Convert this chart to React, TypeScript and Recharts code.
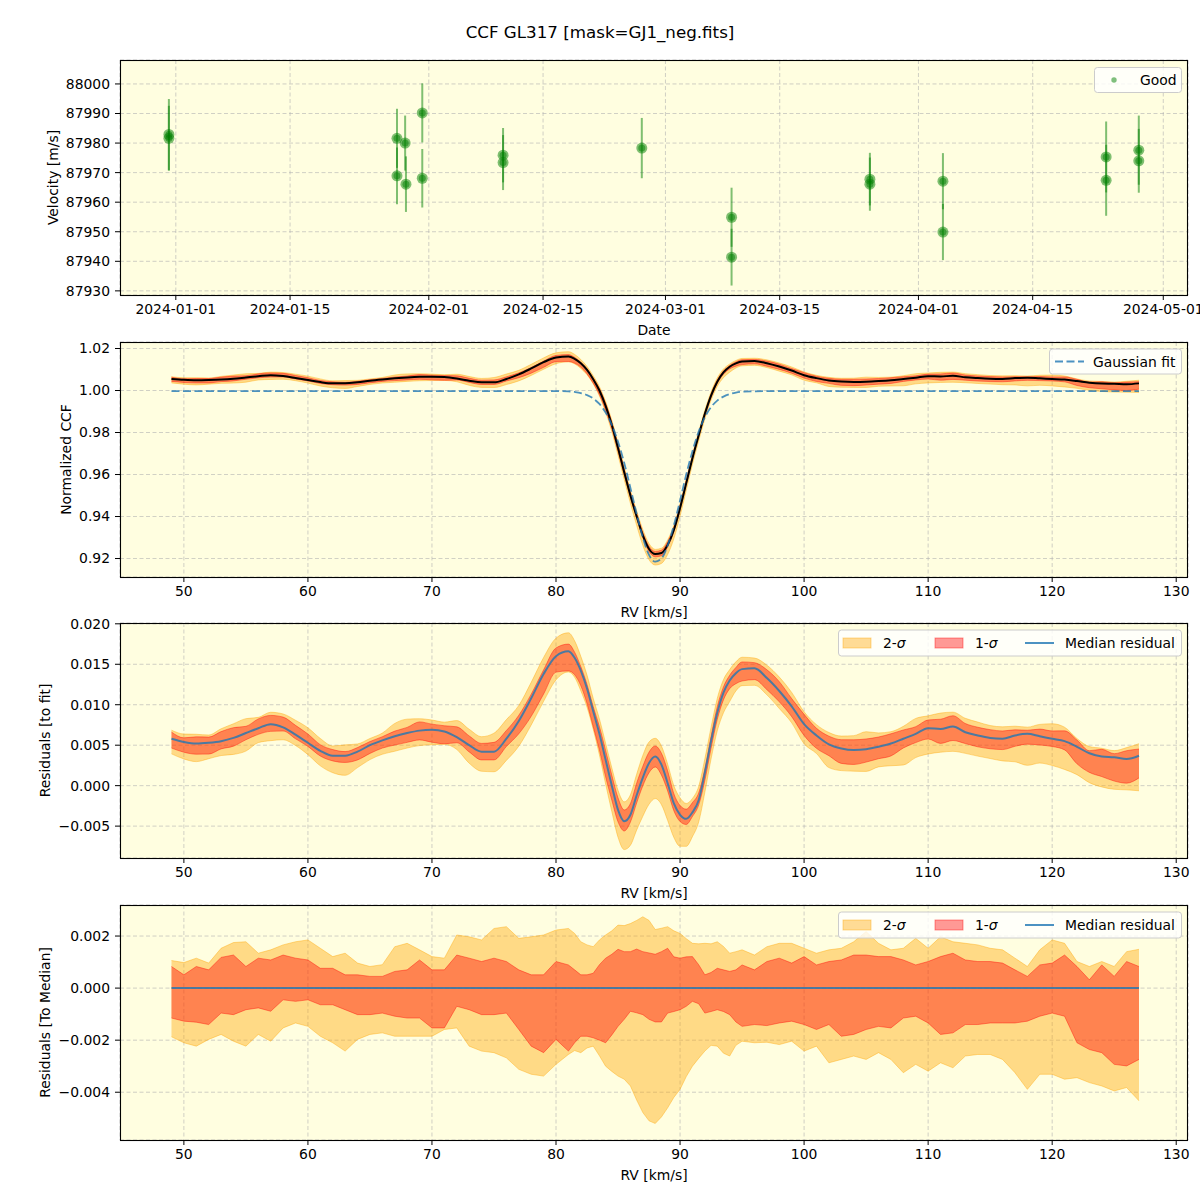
import React from 'react';
import {
  ComposedChart,
  Area,
  Line,
  Scatter,
  ErrorBar,
  XAxis,
  YAxis,
  CartesianGrid,
} from 'recharts';

// ---- radial velocity time series (top panel) ----
const obsTime = [
  '2023-12-31T03:36:00', '2023-12-31T03:36:00',
  '2024-01-28T02:24:00', '2024-01-28T02:24:00',
  '2024-01-29T02:24:00', '2024-01-29T04:48:00',
  '2024-01-31T04:48:00', '2024-01-31T04:48:00',
  '2024-02-10T02:24:00', '2024-02-10T02:24:00',
  '2024-02-27T02:24:00',
  '2024-03-09T02:24:00', '2024-03-09T02:24:00',
  '2024-03-26T01:12:00', '2024-03-26T01:12:00',
  '2024-04-04T00:00:00', '2024-04-04T00:00:00',
  '2024-04-24T00:00:00', '2024-04-24T00:00:00',
  '2024-04-28T00:00:00', '2024-04-28T00:00:00',
];
const obsVel = [
  87982.9, 87981.6, 87981.6, 87968.9, 87980.0, 87966.1, 87990.2, 87968.1,
  87975.9, 87973.4, 87978.3, 87954.9, 87941.4, 87967.8, 87966.1, 87967.1,
  87949.9, 87975.3, 87967.4, 87977.6, 87974.0,
];
const obsErr = [
  12.0, 11.0, 10.0, 9.6, 9.3, 9.4, 10.0, 9.9, 9.2, 9.3, 10.2, 10.0, 9.6, 8.9,
  9.0, 9.5, 9.5, 12.0, 12.0, 11.7, 10.8,
];
const dateTicks = [
  '2024-01-01', '2024-01-15', '2024-02-01', '2024-02-15', '2024-03-01',
  '2024-03-15', '2024-04-01', '2024-04-15', '2024-05-01',
];
const velTicks = [87930, 87940, 87950, 87960, 87970, 87980, 87990, 88000];

// ---- CCF profile (RV grid in km/s) ----
const rv = [
  49, 50, 51, 52, 53, 54, 55, 56, 57, 58, 59, 60, 61, 62, 63, 64, 65, 66, 67,
  68, 69, 70, 71, 72, 73, 74, 75, 76, 77, 78, 79, 80, 81,
  81.5, 82, 82.5, 83, 83.5, 84, 84.5, 85, 85.5, 86, 86.5, 87, 87.5, 88, 88.5,
  89, 89.5, 90, 90.5, 91, 91.5, 92, 92.5, 93, 93.5, 94, 94.5,
  95, 96, 97, 98, 99, 100, 101, 102, 103, 104, 105, 106, 107, 108, 109, 110,
  111, 112, 113, 114, 115, 116, 117, 118, 119, 120, 121, 122, 123, 124, 125,
  126, 127,
];
const gaussFit = [
  0.9997, 0.9997, 0.9997, 0.9997, 0.9997, 0.9997, 0.9997, 0.9997, 0.9997,
  0.9997, 0.9997, 0.9997, 0.9997, 0.9997, 0.9997, 0.9997, 0.9997, 0.9997,
  0.9997, 0.9997, 0.9997, 0.9997, 0.9997, 0.9997, 0.9997, 0.9997, 0.9997,
  0.9997, 0.9997, 0.9997, 0.9997, 0.9997, 0.9996,
  0.9993, 0.9988, 0.9978, 0.9962, 0.9936, 0.9895, 0.9836, 0.9756, 0.9655,
  0.9536, 0.9413, 0.93, 0.9217, 0.9185, 0.92, 0.9262, 0.9358, 0.9476, 0.96,
  0.9711, 0.9804, 0.9873, 0.9921, 0.9952, 0.9971, 0.9983, 0.999,
  0.9994, 0.9996, 0.9997, 0.9997, 0.9997, 0.9997, 0.9997, 0.9997, 0.9997,
  0.9997, 0.9997, 0.9997, 0.9997, 0.9997, 0.9997, 0.9997, 0.9997, 0.9997,
  0.9997, 0.9997, 0.9997, 0.9997, 0.9997, 0.9997, 0.9997, 0.9997, 0.9997,
  0.9997, 0.9997, 0.9997, 0.9997, 0.9997, 0.9997,
];
// median residual to the fit
const medianResid = [
  0.0058, 0.0054, 0.0052, 0.0053, 0.0055, 0.0059, 0.0065, 0.0071, 0.0076,
  0.0072, 0.0063, 0.0053, 0.0043, 0.0037, 0.0037, 0.0042, 0.005, 0.0056,
  0.0061, 0.0065, 0.0068, 0.0069, 0.0067, 0.006, 0.005, 0.0042, 0.0042,
  0.0058, 0.008, 0.0108, 0.0138, 0.016, 0.0166,
  0.0158, 0.0142, 0.012, 0.0092, 0.0064, 0.0032, 0.0, -0.003, -0.0044,
  -0.0036, -0.0012, 0.001, 0.0028, 0.0036, 0.0026, 0.0003, -0.0022, -0.0036,
  -0.0041, -0.0033, -0.0018, 0.0016, 0.0055, 0.009, 0.0115, 0.013, 0.0139,
  0.0144, 0.0145, 0.0133, 0.0117, 0.0098, 0.0076, 0.0062, 0.0051, 0.0046,
  0.0044, 0.0045, 0.0048, 0.0052, 0.0058, 0.0064, 0.0071, 0.007, 0.0073,
  0.0066, 0.0062, 0.0059, 0.0058, 0.0062, 0.0064, 0.0061, 0.0058, 0.0055,
  0.0048, 0.004, 0.0036, 0.0035, 0.0033, 0.0037,
];
// spread around the median (bottom panel)
const hi2 = [
  0.00106, 0.00098, 0.00115, 0.00096, 0.00153, 0.00175, 0.00178, 0.00134,
  0.00147, 0.00166, 0.00178, 0.00185, 0.00153, 0.00121, 0.00134, 0.00096,
  0.00083, 0.0009, 0.00159, 0.00172, 0.00147, 0.00121, 0.00115, 0.00204,
  0.00197, 0.00185, 0.00229, 0.00236, 0.00191, 0.00197, 0.00204, 0.00223,
  0.00229,
  0.0021, 0.00178, 0.00166, 0.00159, 0.00185, 0.00204, 0.0022, 0.00242,
  0.0024, 0.00248, 0.0026, 0.00274, 0.0026, 0.00225, 0.0023, 0.00236, 0.0022,
  0.0021, 0.0019, 0.00172, 0.0017, 0.00172, 0.0017, 0.00178, 0.0016, 0.00134,
  0.0014,
  0.00147, 0.00127, 0.00159, 0.00172, 0.00172, 0.00153, 0.00134, 0.00147,
  0.00153, 0.00178, 0.00217, 0.00172, 0.00147, 0.00153, 0.00191, 0.00153,
  0.00197, 0.00178, 0.00172, 0.00166, 0.00153, 0.00147, 0.00115, 0.00083,
  0.00147, 0.00185, 0.00172, 0.00102, 0.00083, 0.00102, 0.00083, 0.0014,
  0.00149,
];
const hi1 = [
  0.00083, 0.00051, 0.00083, 0.0007, 0.00118, 0.00127, 0.00083, 0.00115,
  0.00108, 0.00127, 0.00115, 0.00108, 0.00076, 0.00076, 0.00051, 0.00051,
  0.00045, 0.00045, 0.00064, 0.0007, 0.00108, 0.0007, 0.0007, 0.00127,
  0.00115, 0.00102, 0.00115, 0.00102, 0.0007, 0.00051, 0.00051, 0.00102,
  0.00089,
  0.0007, 0.00051, 0.00051, 0.00057, 0.0009, 0.00115, 0.0013, 0.00149,
  0.0014, 0.0014, 0.0015, 0.0014, 0.00135, 0.0013, 0.0014, 0.00153, 0.0012,
  0.00115, 0.0012, 0.00121, 0.0009, 0.00051, 0.0006, 0.00076, 0.0007,
  0.00064, 0.0007,
  0.00089, 0.0007, 0.00102, 0.00115, 0.00096, 0.00121, 0.00089, 0.00102,
  0.00108, 0.00127, 0.00127, 0.00121, 0.00121, 0.00108, 0.00089, 0.00102,
  0.00121, 0.00134, 0.00108, 0.00102, 0.00102, 0.00096, 0.0007, 0.00045,
  0.00089, 0.00096, 0.00127, 0.00083, 0.00032, 0.00089, 0.00045, 0.00102,
  0.00083,
];
const lo1 = [
  -0.00115, -0.00127, -0.00131, -0.0014, -0.00096, -0.00102, -0.00083,
  -0.00076, -0.00089, -0.00045, -0.00051, -0.00045, -0.00064, -0.00064,
  -0.00083, -0.00102, -0.00102, -0.00096, -0.00108, -0.00115, -0.00115,
  -0.00153, -0.00153, -0.0007, -0.00083, -0.00102, -0.00102, -0.00096,
  -0.00159, -0.00223, -0.00248, -0.00197, -0.00242,
  -0.0021, -0.00185, -0.00185, -0.00191, -0.002, -0.0021, -0.0018, -0.00147,
  -0.0012, -0.00089, -0.00095, -0.00102, -0.0012, -0.0013, -0.0013, -0.00096,
  -0.0009, -0.00083, -0.0007, -0.00051, -0.0006, -0.00096, -0.0009,
  -0.00083, -0.0009, -0.00102, -0.0013,
  -0.00147, -0.0014, -0.00144, -0.00134, -0.00127, -0.0014, -0.00159,
  -0.0014, -0.00185, -0.00178, -0.00159, -0.00147, -0.00153, -0.00115,
  -0.00108, -0.00134, -0.00178, -0.00172, -0.0014, -0.0014, -0.00134,
  -0.00134, -0.00134, -0.00127, -0.00108, -0.00096, -0.00108, -0.0021,
  -0.00236, -0.00248, -0.00293, -0.00299, -0.00274,
];
const lo2 = [
  -0.00187, -0.0021, -0.00223, -0.00197, -0.00178, -0.00204, -0.00223,
  -0.00178, -0.00204, -0.00153, -0.00134, -0.00147, -0.00185, -0.0021,
  -0.00242, -0.00197, -0.00178, -0.00172, -0.00185, -0.00185, -0.00185,
  -0.00185, -0.00159, -0.00153, -0.00223, -0.00242, -0.00248, -0.00268,
  -0.00312, -0.00331, -0.00338, -0.00293, -0.00255,
  -0.0024, -0.00248, -0.0023, -0.00223, -0.0026, -0.003, -0.0032, -0.00338,
  -0.0035, -0.00376, -0.0043, -0.00478, -0.0051, -0.0052, -0.00495, -0.0046,
  -0.0042, -0.00389, -0.0034, -0.003, -0.0027, -0.00242, -0.0022, -0.00223,
  -0.0025, -0.00261, -0.0022,
  -0.00204, -0.0021, -0.00208, -0.00217, -0.00204, -0.00242, -0.00223,
  -0.00287, -0.00274, -0.00261, -0.00274, -0.00248, -0.00274, -0.00325,
  -0.00293, -0.00319, -0.00287, -0.00306, -0.00261, -0.00255, -0.00255,
  -0.00274, -0.00325, -0.00389, -0.00331, -0.00331, -0.0035, -0.00344,
  -0.00363, -0.00376, -0.00395, -0.00382, -0.00433,
];

const rvTicks = [50, 60, 70, 80, 90, 100, 110, 120, 130];
const ccfTicks = [0.92, 0.94, 0.96, 0.98, 1.0, 1.02];
const fitResidTicks = [-0.005, 0, 0.005, 0.01, 0.015, 0.02];
const medResidTicks = [-0.004, -0.002, 0, 0.002];

// ---- layout ----
const W = 1200;
const PLOT_L = 120;
const PLOT_R = 1188;
const PLOT_H = 235;
const PANEL_TOP = [60, 342, 623, 905];
const PAD_TOP = 20;
const AXIS_H = 40;
const BG = '#fffee0';
const FONT = "'DejaVu Sans', sans-serif";
const TICK = { fontSize: 13.9, fill: '#000', fontFamily: FONT };
const C0 = '#1f77b4';

const DAY0 = Date.parse('2024-01-01T00:00:00Z');
const toDay = (s: string) => (Date.parse(s.length > 10 ? s + 'Z' : s + 'T00:00:00Z') - DAY0) / 864e5;
const dayLabel = (d: number) => new Date(DAY0 + Math.round(d) * 864e5).toISOString().slice(0, 10);
const minus = (s: string) => s.replace('-', '\u2212');

const obs = obsTime.map((t, i) => ({ day: toDay(t), v: obsVel[i], err: obsErr[i] }));

const profile = rv.map((x, i) => {
  const fit = gaussFit[i];
  const m = medianResid[i];
  const c = fit + m;
  return {
    rv: x,
    fit,
    ccf: c,
    ccf2: [c + lo2[i], c + hi2[i]],
    ccf1: [c + lo1[i], c + hi1[i]],
    res: m,
    res2: [m + lo2[i], m + hi2[i]],
    res1: [m + lo1[i], m + hi1[i]],
    zero: 0,
    med2: [lo2[i], hi2[i]],
    med1: [lo1[i], hi1[i]],
  };
});

function Panel({ top, data, children }: { top: number; data: any[]; children: React.ReactNode }) {
  return (
    <div style={{ position: 'absolute', left: 0, top: top - PAD_TOP }}>
      <ComposedChart
        width={W}
        height={PLOT_H + PAD_TOP + AXIS_H}
        data={data}
        margin={{ top: PAD_TOP, right: W - PLOT_R, bottom: 0, left: 0 }}
      >
        {children}
      </ComposedChart>
    </div>
  );
}

const gridBack = <CartesianGrid fill={BG} fillOpacity={1} horizontal={false} vertical={false} />;
const gridFront = (
  <CartesianGrid fill="none" stroke="#b0b0b0" strokeOpacity={0.6} strokeDasharray="4 2.5" />
);

function rvAxis() {
  return (
    <XAxis
      type="number"
      dataKey="rv"
      domain={[44.85, 130.95]}
      allowDataOverflow
      ticks={rvTicks}
      interval={0}
      height={AXIS_H}
      tick={TICK}
      tickSize={5}
      tickMargin={4}
      axisLine={false}
      tickLine={{ stroke: '#000' }}
    />
  );
}

function yAxis(domain: number[], ticks: number[], fmt: (v: number) => string) {
  return (
    <YAxis
      type="number"
      domain={domain}
      allowDataOverflow
      ticks={ticks}
      interval={0}
      width={PLOT_L}
      tick={TICK}
      tickSize={5}
      tickMargin={5}
      tickFormatter={fmt}
      axisLine={false}
      tickLine={{ stroke: '#000' }}
    />
  );
}

const markerShape = (p: any) => (
  <g>
    <circle cx={p.cx} cy={p.cy} r={5.5} fill="green" fillOpacity={0.5} />
    <circle cx={p.cx} cy={p.cy} r={3.5} fill="green" fillOpacity={0.5} />
  </g>
);

function SigmaLegend({ y }: { y: number }) {
  const mid = y + 13;
  return (
    <g>
      <rect x={838.5} y={y} width={343} height={26} rx={3} fill="#fff" fillOpacity={0.8} stroke="#cccccc" />
      <rect x={843} y={mid - 5} width={28} height={10} fill="orange" fillOpacity={0.4} stroke="orange" strokeOpacity={0.4} />
      <text x={883} y={mid} dominantBaseline="central" fontSize={13.9}>
        2-<tspan fontStyle="italic">σ</tspan>
      </text>
      <rect x={935} y={mid - 5} width={28} height={10} fill="red" fillOpacity={0.4} stroke="red" strokeOpacity={0.4} />
      <text x={975} y={mid} dominantBaseline="central" fontSize={13.9}>
        1-<tspan fontStyle="italic">σ</tspan>
      </text>
      <line x1={1025} x2={1054} y1={mid} y2={mid} stroke={C0} strokeOpacity={0.8} strokeWidth={2} />
      <text x={1065} y={mid} dominantBaseline="central" fontSize={13.9}>Median residual</text>
    </g>
  );
}

function Overlay() {
  const yTitles = [
    { x: 53, text: 'Velocity [m/s]' },
    { x: 66, text: 'Normalized CCF' },
    { x: 45, text: 'Residuals [to fit]' },
    { x: 45, text: 'Residuals [To Median]' },
  ];
  const xTitles = ['Date', 'RV [km/s]', 'RV [km/s]', 'RV [km/s]'];
  const midX = (PLOT_L + PLOT_R) / 2;
  return (
    <svg
      width={W}
      height={1200}
      style={{ position: 'absolute', left: 0, top: 0, pointerEvents: 'none' }}
      fontFamily={FONT}
    >
      <text x={600} y={32} textAnchor="middle" dominantBaseline="central" fontSize={16.7}>
        CCF GL317 [mask=GJ1_neg.fits]
      </text>
      {PANEL_TOP.map((t, i) => {
        const cy = t + PLOT_H / 2;
        return (
          <g key={t}>
            <rect x={PLOT_L + 0.5} y={t + 0.5} width={PLOT_R - PLOT_L - 1} height={PLOT_H} fill="none" stroke="#000" strokeWidth={1.1} />
            <text x={midX} y={t + PLOT_H + 35} textAnchor="middle" dominantBaseline="central" fontSize={13.9}>
              {xTitles[i]}
            </text>
            <text
              x={yTitles[i].x}
              y={cy}
              textAnchor="middle"
              dominantBaseline="central"
              fontSize={13.9}
              transform={`rotate(-90 ${yTitles[i].x} ${cy})`}
            >
              {yTitles[i].text}
            </text>
          </g>
        );
      })}
      {/* legend: top panel */}
      <rect x={1094.5} y={67.5} width={87} height={25} rx={3} fill="#fff" fillOpacity={0.8} stroke="#cccccc" />
      <circle cx={1114} cy={80} r={2.7} fill="green" fillOpacity={0.5} />
      <text x={1140} y={80} dominantBaseline="central" fontSize={13.9}>Good</text>
      {/* legend: CCF panel */}
      <rect x={1049.5} y={349} width={132} height={25} rx={3} fill="#fff" fillOpacity={0.8} stroke="#cccccc" />
      <line x1={1055} x2={1084} y1={361.5} y2={361.5} stroke={C0} strokeOpacity={0.8} strokeWidth={1.8} strokeDasharray="8 3.5" />
      <text x={1093} y={361.5} dominantBaseline="central" fontSize={13.9}>Gaussian fit</text>
      <SigmaLegend y={630} />
      <SigmaLegend y={912} />
    </svg>
  );
}

export default function App() {
  return (
    <div style={{ position: 'absolute', left: 0, top: 0, width: W, height: 1200, background: '#fff' }}>
      {/* velocities */}
      <Panel top={PANEL_TOP[0]} data={obs}>
        {gridBack}
        <XAxis
          type="number"
          dataKey="day"
          domain={[-6.84, 124.03]}
          allowDataOverflow
          ticks={dateTicks.map(toDay)}
          interval={0}
          height={AXIS_H}
          tick={TICK}
          tickSize={5}
          tickMargin={4}
          tickFormatter={dayLabel}
          axisLine={false}
          tickLine={{ stroke: '#000' }}
        />
        {yAxis([87928.6, 88008.1], velTicks, (v) => String(v))}
        {gridFront}
        <Scatter data={obs} dataKey="v" shape={markerShape} isAnimationActive={false}>
          <ErrorBar
            dataKey="err"
            direction="y"
            width={0}
            stroke="green"
            strokeOpacity={0.5}
            strokeWidth={2}
            isAnimationActive={false}
          />
        </Scatter>
      </Panel>

      {/* normalized CCF */}
      <Panel top={PANEL_TOP[1]} data={profile}>
        {gridBack}
        {rvAxis()}
        {yAxis([0.9112, 1.0231], ccfTicks, (v) => v.toFixed(2))}
        {gridFront}
        <Area type="monotone" dataKey="ccf2" stroke="orange" strokeOpacity={0.4} fill="orange" fillOpacity={0.4} dot={false} activeDot={false} isAnimationActive={false} />
        <Area type="monotone" dataKey="ccf1" stroke="red" strokeOpacity={0.4} fill="red" fillOpacity={0.4} dot={false} activeDot={false} isAnimationActive={false} />
        <Line type="monotone" dataKey="ccf" stroke="#000" strokeWidth={2} dot={false} activeDot={false} isAnimationActive={false} />
        <Line type="monotone" dataKey="fit" stroke={C0} strokeOpacity={0.8} strokeWidth={1.8} strokeDasharray="8 3.5" dot={false} activeDot={false} isAnimationActive={false} />
      </Panel>

      {/* residuals to fit */}
      <Panel top={PANEL_TOP[2]} data={profile}>
        {gridBack}
        {rvAxis()}
        {yAxis([-0.00894, 0.0201], fitResidTicks, (v) => minus(v.toFixed(3)))}
        {gridFront}
        <Area type="monotone" dataKey="res2" stroke="orange" strokeOpacity={0.4} fill="orange" fillOpacity={0.4} dot={false} activeDot={false} isAnimationActive={false} />
        <Area type="monotone" dataKey="res1" stroke="red" strokeOpacity={0.4} fill="red" fillOpacity={0.4} dot={false} activeDot={false} isAnimationActive={false} />
        <Line type="monotone" dataKey="res" stroke={C0} strokeOpacity={0.8} strokeWidth={2} dot={false} activeDot={false} isAnimationActive={false} />
      </Panel>

      {/* residuals to median */}
      <Panel top={PANEL_TOP[3]} data={profile}>
        {gridBack}
        {rvAxis()}
        {yAxis([-0.005835, 0.003192], medResidTicks, (v) => minus(v.toFixed(3)))}
        {gridFront}
        <Area type="linear" dataKey="med2" stroke="orange" strokeOpacity={0.4} fill="orange" fillOpacity={0.4} dot={false} activeDot={false} isAnimationActive={false} />
        <Area type="linear" dataKey="med1" stroke="red" strokeOpacity={0.4} fill="red" fillOpacity={0.4} dot={false} activeDot={false} isAnimationActive={false} />
        <Line type="linear" dataKey="zero" stroke={C0} strokeOpacity={0.8} strokeWidth={2} dot={false} activeDot={false} isAnimationActive={false} />
      </Panel>

      <Overlay />
    </div>
  );
}
